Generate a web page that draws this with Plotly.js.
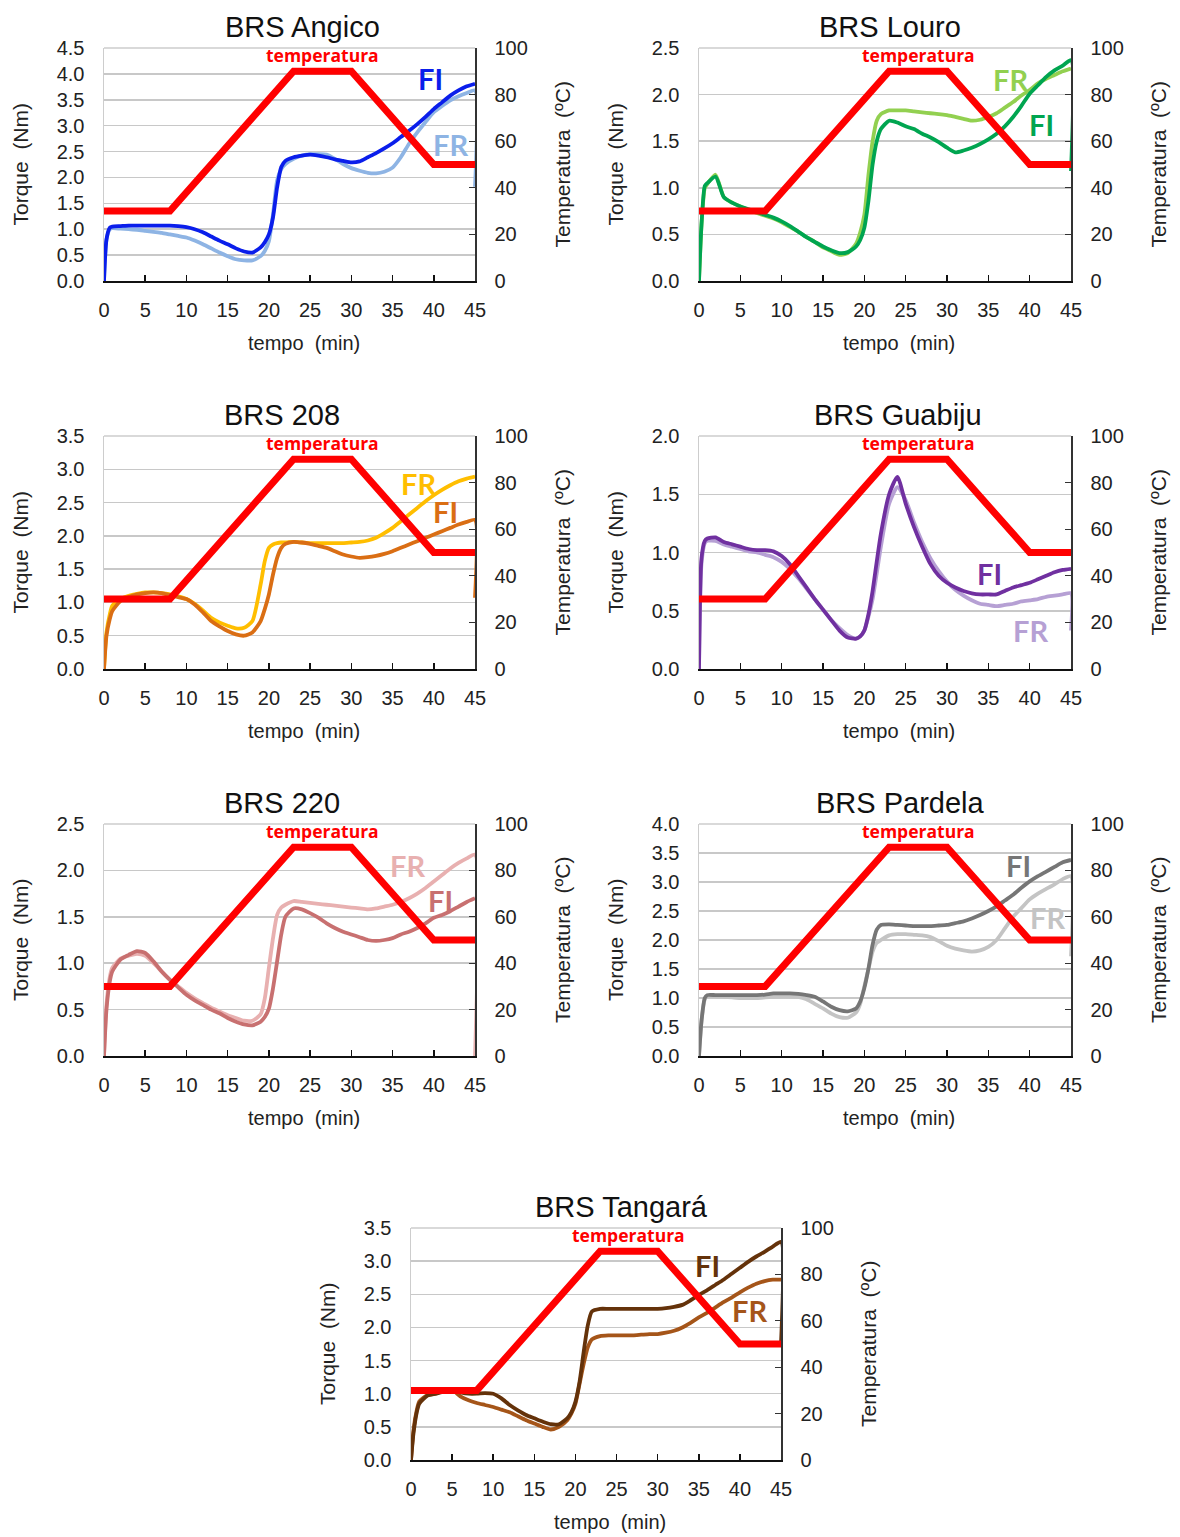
<!DOCTYPE html>
<html><head><meta charset="utf-8">
<script src="https://cdn.plot.ly/plotly-3.0.1.min.js"></script>
<style>body{margin:0;background:#fff}#chart{width:1180px;height:1537px}</style>
</head><body><div id="chart"></div>
<script>
// ---- DATA ----
const tempo = [0,0.3,0.7,1,2,3,4,5,6,7,8,9,10,11,12,13,14,15,16,17,18,19,19.5,20,20.5,21,21.5,22,23,24,25,26,27,28,29,30,31,32,33,34,35,36,37,38,39,40,41,42,43,44,45];
const tempoTemperatura = [0,8,23,30,40,45];
const temperatura = [30,30,90,90,50,50];

const angicoFI = [0,0.8,1.03,1.05,1.06,1.07,1.07,1.07,1.07,1.07,1.07,1.06,1.04,1.0,0.94,0.86,0.78,0.71,0.63,0.57,0.55,0.65,0.75,0.9,1.23,1.81,2.2,2.32,2.39,2.42,2.44,2.42,2.39,2.35,2.32,2.29,2.31,2.39,2.47,2.56,2.66,2.78,2.9,3.03,3.17,3.32,3.45,3.58,3.68,3.76,3.81];
const angicoFR = [0,0.8,1.0,1.02,1.01,1.0,0.99,0.97,0.95,0.93,0.9,0.87,0.84,0.78,0.71,0.63,0.55,0.48,0.42,0.4,0.4,0.48,0.58,0.77,1.29,1.94,2.16,2.26,2.36,2.42,2.45,2.45,2.44,2.36,2.26,2.18,2.13,2.09,2.08,2.11,2.19,2.39,2.65,2.87,3.07,3.26,3.38,3.49,3.57,3.63,3.68];
const louroFI = [0,0.6,1.02,1.05,1.12,0.9,0.84,0.8,0.77,0.74,0.71,0.68,0.64,0.59,0.53,0.47,0.42,0.37,0.33,0.3,0.31,0.37,0.44,0.57,0.86,1.25,1.5,1.63,1.72,1.7,1.66,1.63,1.58,1.54,1.49,1.43,1.38,1.4,1.43,1.47,1.52,1.58,1.66,1.76,1.88,2.01,2.1,2.19,2.26,2.31,2.37];
const louroFR = [0,0.6,1.0,1.04,1.14,0.9,0.84,0.8,0.76,0.73,0.7,0.67,0.63,0.58,0.53,0.47,0.42,0.36,0.32,0.28,0.3,0.4,0.52,0.71,1.14,1.5,1.72,1.79,1.83,1.83,1.83,1.82,1.81,1.8,1.79,1.78,1.76,1.74,1.72,1.73,1.76,1.8,1.86,1.92,1.99,2.05,2.12,2.17,2.21,2.25,2.28];
const brs208FI = [0,0.5,0.75,0.87,1.02,1.08,1.12,1.14,1.15,1.14,1.11,1.08,1.05,0.97,0.85,0.72,0.64,0.57,0.52,0.5,0.55,0.72,0.9,1.12,1.42,1.67,1.82,1.88,1.91,1.9,1.88,1.85,1.82,1.77,1.72,1.69,1.67,1.68,1.7,1.73,1.77,1.82,1.87,1.92,1.97,2.02,2.07,2.12,2.17,2.21,2.24];
const brs208FR = [0,0.55,0.82,0.95,1.05,1.1,1.13,1.15,1.15,1.14,1.12,1.09,1.05,0.98,0.88,0.77,0.7,0.65,0.61,0.62,0.72,1.27,1.62,1.82,1.87,1.89,1.9,1.9,1.91,1.9,1.89,1.89,1.89,1.89,1.89,1.9,1.91,1.93,1.97,2.04,2.12,2.22,2.32,2.42,2.52,2.61,2.69,2.76,2.82,2.86,2.89];
const guabijuFI = [0,0.95,1.1,1.12,1.13,1.09,1.07,1.05,1.03,1.02,1.02,1.01,0.97,0.9,0.8,0.7,0.6,0.51,0.42,0.33,0.27,0.26,0.28,0.33,0.47,0.67,0.92,1.16,1.5,1.65,1.42,1.22,1.05,0.9,0.8,0.74,0.7,0.67,0.65,0.64,0.64,0.64,0.67,0.7,0.72,0.74,0.77,0.8,0.83,0.85,0.86];
const guabijuFR = [0,0.9,1.08,1.1,1.1,1.07,1.05,1.03,1.01,1.0,0.98,0.96,0.92,0.86,0.78,0.69,0.6,0.51,0.42,0.35,0.29,0.26,0.28,0.33,0.45,0.6,0.82,1.05,1.42,1.56,1.45,1.26,1.09,0.95,0.84,0.75,0.68,0.63,0.59,0.56,0.55,0.54,0.55,0.56,0.58,0.59,0.6,0.62,0.63,0.64,0.65];
const brs220FI = [0,0.5,0.8,0.91,1.04,1.09,1.13,1.11,1.02,0.91,0.82,0.74,0.66,0.6,0.55,0.5,0.46,0.41,0.37,0.34,0.33,0.37,0.42,0.51,0.73,1.02,1.31,1.5,1.59,1.58,1.54,1.49,1.43,1.38,1.34,1.31,1.28,1.25,1.24,1.25,1.27,1.31,1.34,1.38,1.43,1.49,1.52,1.56,1.61,1.66,1.7];
const brs220FR = [0,0.55,0.85,0.95,1.05,1.08,1.1,1.08,1.0,0.91,0.82,0.75,0.68,0.62,0.57,0.52,0.48,0.44,0.41,0.38,0.38,0.45,0.62,0.95,1.27,1.52,1.6,1.63,1.67,1.66,1.65,1.64,1.63,1.62,1.61,1.6,1.59,1.58,1.59,1.61,1.63,1.66,1.7,1.75,1.81,1.88,1.95,2.02,2.08,2.13,2.17];
const pardelaFI = [0,0.6,1.0,1.05,1.05,1.05,1.05,1.05,1.05,1.05,1.06,1.08,1.08,1.08,1.07,1.05,1.02,0.94,0.85,0.79,0.77,0.82,0.94,1.17,1.51,1.92,2.18,2.26,2.27,2.26,2.25,2.24,2.24,2.24,2.25,2.26,2.29,2.32,2.37,2.43,2.5,2.58,2.68,2.78,2.9,3.01,3.1,3.18,3.26,3.34,3.38];
const pardelaFR = [0,0.6,0.98,1.03,1.03,1.02,1.01,1.0,1.0,1.0,1.01,1.02,1.03,1.03,1.02,0.98,0.9,0.82,0.73,0.67,0.66,0.75,0.9,1.2,1.5,1.8,1.95,2.0,2.08,2.1,2.1,2.09,2.08,2.05,1.98,1.9,1.85,1.82,1.8,1.82,1.88,2.0,2.2,2.4,2.55,2.7,2.8,2.88,2.96,3.05,3.1];
const tangaraFI = [0,0.4,0.72,0.85,0.97,1.0,1.03,1.05,1.02,1.0,1.0,1.01,1.0,0.93,0.83,0.75,0.68,0.63,0.58,0.54,0.54,0.63,0.72,0.88,1.18,1.63,2.03,2.24,2.28,2.28,2.28,2.28,2.28,2.28,2.28,2.28,2.29,2.31,2.34,2.41,2.49,2.56,2.64,2.72,2.81,2.9,2.99,3.07,3.14,3.22,3.29];
const tangaraFR = [0,0.45,0.75,0.88,0.98,1.0,1.05,1.06,0.96,0.9,0.86,0.83,0.8,0.76,0.72,0.66,0.6,0.55,0.5,0.46,0.5,0.6,0.7,0.85,1.15,1.45,1.7,1.82,1.87,1.88,1.88,1.88,1.88,1.89,1.9,1.9,1.92,1.95,2.0,2.07,2.15,2.22,2.3,2.38,2.45,2.53,2.6,2.66,2.7,2.72,2.72];

// final drop of the recorded trace at t = 45 min (null = none)
const quedaFinalFI = [null, 1.18, 1.07, null, null, null, 1.75];
const quedaFinalFR = [1.82, null, null, 0.33, 0, 1.72, null];

const titulos = ['BRS Angico','BRS Louro','BRS 208','BRS Guabiju','BRS 220','BRS Pardela','BRS Tangará'];
const torqueMax = [4.5, 2.5, 3.5, 2.0, 2.5, 4.0, 3.5];
const seriesFI = [angicoFI, louroFI, brs208FI, guabijuFI, brs220FI, pardelaFI, tangaraFI];
const seriesFR = [angicoFR, louroFR, brs208FR, guabijuFR, brs220FR, pardelaFR, tangaraFR];

// ---- STYLE / LAYOUT ----
const W = 1180, H = 1537;
const px = x => x / W, py = y => 1 - y / H;
// plot boxes in pixels: [left, right, top, bottom]
const boxes = [
  [104, 475, 48, 281], [699, 1071, 48, 281],
  [104, 475, 436, 669], [699, 1071, 436, 669],
  [104, 475, 824, 1056], [699, 1071, 824, 1056],
  [411, 781, 1228, 1460]
];
const titleX = [302, 890, 282, 898, 282, 900, 621];
const colFI = ['rgb(10,30,235)','rgb(0,165,80)','rgb(218,110,20)','rgb(112,48,160)','rgb(200,112,112)','rgb(118,118,118)','rgb(100,50,10)'];
const colFR = ['rgb(142,180,228)','rgb(146,208,80)','rgb(255,190,0)','rgb(182,160,212)','rgb(232,176,176)','rgb(196,196,196)','rgb(165,85,25)'];
const labFI = [[39.6,3.92],[41.4,1.68],[41.4,2.36],[35.2,0.82],[40.8,1.68],[38.6,3.28],[36.1,2.94]];
const labFR = [[42.0,2.63],[37.7,2.16],[38.1,2.79],[40.1,0.33],[36.8,2.05],[42.1,2.38],[41.2,2.26]];

const FONT = 'Liberation Sans, Arial, sans-serif';
const LABFONT = 'Lato, Open Sans, sans-serif';
const traces = [];
const layout = {
  width: W, height: H, margin: {l:0, r:0, t:0, b:0},
  paper_bgcolor: '#fff', plot_bgcolor: '#fff', showlegend: false,
  font: {family: FONT, size: 20, color: '#222'},
  annotations: [], shapes: []
};

boxes.forEach((b, i) => {
  const n = i + 1;
  const xa = n === 1 ? 'x' : 'x' + n;
  const yl = 2 * n - 1, yr = 2 * n;
  const ya = yl === 1 ? 'y' : 'y' + yl;
  const yb = 'y' + yr;
  const xk = n === 1 ? 'xaxis' : 'xaxis' + n;
  const ylk = yl === 1 ? 'yaxis' : 'yaxis' + yl;
  const yrk = 'yaxis' + yr;

  layout[xk] = {
    domain: [px(b[0]), px(b[1])], anchor: ya, range: [0, 45], dtick: 5, tick0: 0,
    showgrid: false, zeroline: false, showline: true, linecolor: '#111', linewidth: 2,
    ticks: 'inside', ticklen: 6, tickcolor: '#111', tickwidth: 1.5,
    ticklabelstandoff: 10, tickfont: {family: FONT, size: 20, color: '#222'}, fixedrange: true
  };
  layout[ylk] = {
    domain: [py(b[3]), py(b[2])], anchor: xa, range: [0, torqueMax[i]], dtick: 0.5, tick0: 0,
    tickformat: '.1f', showgrid: true, gridcolor: 'rgb(200,200,200)', gridwidth: 1.5,
    zeroline: false, showline: true, linecolor: 'rgb(205,205,205)', linewidth: 1.5,
    ticks: '', ticklabelstandoff: 14, tickfont: {family: FONT, size: 20, color: '#222'}, fixedrange: true
  };
  layout[yrk] = {
    overlaying: ya, anchor: xa, side: 'right', range: [0, 100], dtick: 20, tick0: 0,
    showgrid: false, zeroline: false, showline: true, linecolor: '#333', linewidth: 1.5,
    ticks: 'inside', ticklen: 6, tickcolor: '#333', ticklabelstandoff: 14,
    tickfont: {family: FONT, size: 20, color: '#222'}, fixedrange: true
  };

  // top border (light grey)
  layout.shapes.push({type: 'line', xref: 'paper', yref: 'paper',
    x0: px(b[0]), x1: px(b[1]), y0: py(b[2]), y1: py(b[2]),
    line: {color: 'rgb(205,205,205)', width: 1.5}});

  const tFR = tempo.slice(), vFR = seriesFR[i].slice();
  if (quedaFinalFR[i] !== null) { tFR.push(45); vFR.push(quedaFinalFR[i]); }
  const tFI = tempo.slice(), vFI = seriesFI[i].slice();
  if (quedaFinalFI[i] !== null) { tFI.push(45); vFI.push(quedaFinalFI[i]); }

  traces.push({x: tFR, y: vFR, xaxis: xa, yaxis: ya, type: 'scatter', mode: 'lines',
    name: 'FR', line: {color: colFR[i], width: 3.8, shape: 'spline', smoothing: 0.6}, hoverinfo: 'skip'});
  traces.push({x: tFI, y: vFI, xaxis: xa, yaxis: ya, type: 'scatter', mode: 'lines',
    name: 'FI', line: {color: colFI[i], width: 3.8, shape: 'spline', smoothing: 0.6}, hoverinfo: 'skip'});
  traces.push({x: tempoTemperatura, y: temperatura, xaxis: xa, yaxis: yb, type: 'scatter', mode: 'lines',
    name: 'temperatura', line: {color: 'rgb(255,0,0)', width: 7}, hoverinfo: 'skip'});

  const cx = (b[0] + b[1]) / 2, cy = (b[2] + b[3]) / 2;
  // panel title
  layout.annotations.push({text: titulos[i], xref: 'paper', yref: 'paper', x: px(titleX[i]), y: py(b[2] - 21),
    xanchor: 'center', yanchor: 'middle', showarrow: false, font: {family: FONT, size: 29, color: '#111'}});
  // axis titles
  layout.annotations.push({text: 'Torque\u00a0 (Nm)', xref: 'paper', yref: 'paper', x: px(b[0] - 84), y: py(cy),
    xanchor: 'center', yanchor: 'middle', textangle: -90, showarrow: false, font: {family: FONT, size: 21, color: '#222'}});
  layout.annotations.push({text: 'Temperatura\u00a0 (ºC)', xref: 'paper', yref: 'paper', x: px(b[1] + 87), y: py(cy),
    xanchor: 'center', yanchor: 'middle', textangle: -90, showarrow: false, font: {family: FONT, size: 21, color: '#222'}});
  layout.annotations.push({text: 'tempo\u00a0 (min)', xref: 'paper', yref: 'paper', x: px(cx + 14), y: py(b[3] + 62),
    xanchor: 'center', yanchor: 'middle', showarrow: false, font: {family: FONT, size: 20, color: '#222'}});
  // temperatura label
  layout.annotations.push({text: '<b>temperatura</b>', xref: xa, yref: yb, x: 26.5, y: 97,
    xanchor: 'center', yanchor: 'middle', showarrow: false, font: {family: 'Open Sans, sans-serif', size: 17.5, color: 'rgb(255,0,0)'}});
  // FI / FR labels
  layout.annotations.push({text: '<b>FI</b>', xref: xa, yref: ya, x: labFI[i][0], y: labFI[i][1],
    xanchor: 'center', yanchor: 'middle', showarrow: false, font: {family: LABFONT, size: 29, color: colFI[i]}});
  layout.annotations.push({text: '<b>FR</b>', xref: xa, yref: ya, x: labFR[i][0], y: labFR[i][1],
    xanchor: 'center', yanchor: 'middle', showarrow: false, font: {family: LABFONT, size: 29, color: colFR[i]}});
});

Plotly.newPlot('chart', traces, layout, {staticPlot: true, displayModeBar: false});
</script>
</body></html>
